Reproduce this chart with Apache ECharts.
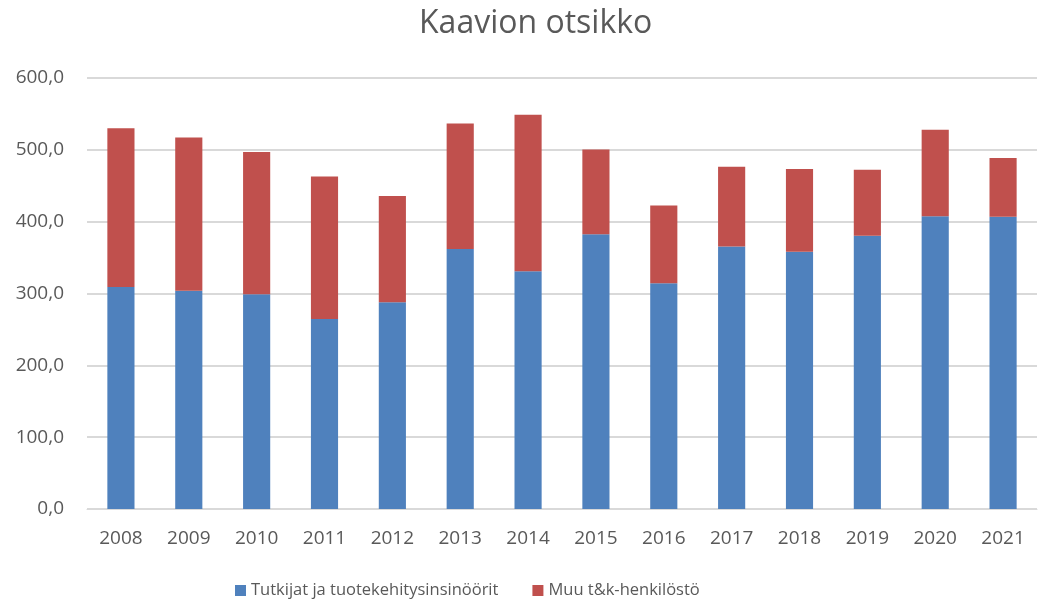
<!DOCTYPE html>
<html>
<head>
<meta charset="utf-8">
<script src="https://cdn.jsdelivr.net/npm/echarts@6/dist/echarts.min.js"></script>
<style>
  html, body { margin: 0; padding: 0; background: #fff; }
  #chart { width: 1039px; height: 604px; }
</style>
</head>
<body>
<div id="chart"></div>
<script>
// values
const years = ['2008', '2009', '2010', '2011', '2012', '2013', '2014',
  '2015', '2016', '2017', '2018', '2019', '2020', '2021'];
const tutkijat = [309, 304, 299, 264.6, 287.7, 362, 331, 382.6, 314.2, 365.4, 358, 380.3, 407.7, 406.8];
const muut = [221, 213, 198, 198.4, 148, 174.5, 218, 118, 108.4, 111.2, 115.3, 92.1, 120.3, 81.8];
const seriesNames = ['Tutkijat ja tuotekehitysinsinöörit', 'Muu t&k-henkilöstö'];

const font = '"Open Sans", "Noto Sans", sans-serif';
const textColor = '#595959';

const chart = echarts.init(document.getElementById('chart'), null, { renderer: 'canvas' });
chart.setOption({
  animation: false,
  title: {
    text: 'Kaavion otsikko',
    left: 414,
    top: 3,
    textStyle: { fontFamily: font, fontSize: 32, fontWeight: 'normal', color: textColor }
  },
  legend: {
    bottom: 0,
    left: 230,
    itemGap: 34,
    itemWidth: 11,
    itemHeight: 11,
    icon: 'rect',
    textStyle: { fontFamily: font, fontSize: 16.5, color: textColor }
  },
  grid: { left: 87, right: 2, top: 78, bottom: 95 },
  xAxis: {
    type: 'category',
    data: years,
    axisTick: { show: false },
    axisLine: { lineStyle: { color: '#d9d9d9', width: 1 } },
    axisLabel: { fontFamily: font, fontSize: 19, color: textColor, margin: 20 }
  },
  yAxis: {
    type: 'value',
    min: 0,
    max: 600,
    interval: 100,
    axisLine: { show: false },
    axisTick: { show: false },
    splitLine: { lineStyle: { color: '#d9d9d9', width: 2 } },
    axisLabel: {
      fontFamily: font, fontSize: 19, color: textColor, margin: 23,
      formatter: v => v.toFixed(1).replace('.', ',')
    }
  },
  series: [
    {
      name: seriesNames[0], type: 'bar', stack: 'total', data: tutkijat,
      barWidth: '40%',
      itemStyle: { color: '#4f81bd' }
    },
    {
      name: seriesNames[1], type: 'bar', stack: 'total', data: muut,
      itemStyle: { color: '#c0504d' }
    }
  ]
});
</script>
</body>
</html>
